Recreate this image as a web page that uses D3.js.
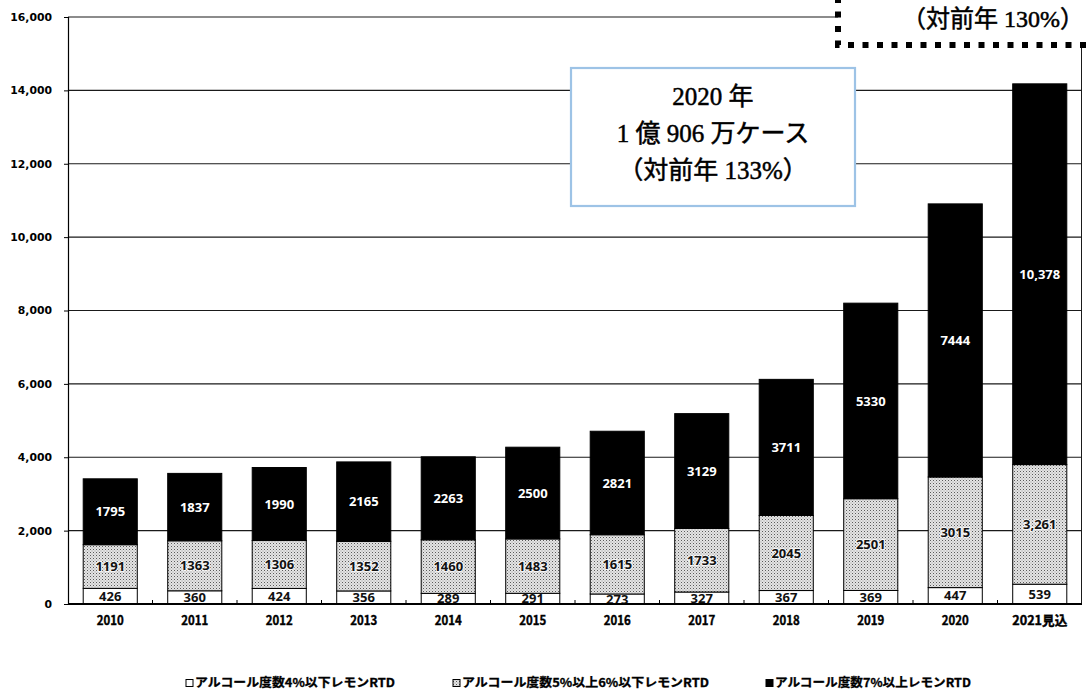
<!DOCTYPE html>
<html>
<head>
<meta charset="utf-8">
<script src="https://cdn.jsdelivr.net/npm/d3@7"></script>
<style>
  html, body { margin: 0; padding: 0; background: #fff; }
  svg { display: block; }
</style>
</head>
<body>
<svg id="chart" width="1086" height="693"></svg>
<script>
// Lemon RTD shipments by alcohol strength (thousand cases)
const years = ['2010', '2011', '2012', '2013', '2014', '2015', '2016', '2017', '2018', '2019', '2020', '2021見込'];
const lowAbv = [426, 360, 424, 356, 289, 291, 273, 327, 367, 369, 447, 539];
const midAbv = [1191, 1363, 1306, 1352, 1460, 1483, 1615, 1733, 2045, 2501, 3015, 3261];
const highAbv = [1795, 1837, 1990, 2165, 2263, 2500, 2821, 3129, 3711, 5330, 7444, 10378];
const seriesNames = ['アルコール度数4%以下レモンRTD', 'アルコール度数5%以上6%以下レモンRTD', 'アルコール度数7%以上レモンRTD'];
const yTicks = [0, 2000, 4000, 6000, 8000, 10000, 12000, 14000, 16000];
const note2020 = ['2020 年', '1 億 906 万ケース', '（対前年 133%）'];
const note2021 = '（対前年 130%）';

const svg = d3.select('#chart');
const margin = { left: 68, right: 4, top: 17, bottom: 89 };
const W = 1086, H = 693;
const x0 = margin.left, x1 = W - margin.right, y0 = H - margin.bottom, y1 = margin.top;

const x = d3.scaleBand().domain(years).range([x0, x1]).paddingInner(0.36).paddingOuter(0.18);
const y = d3.scaleLinear().domain([0, 16000]).range([y0, y1]);

// stipple fill for the middle series
const defs = svg.append('defs');
const pat = defs.append('pattern').attr('id', 'stipple')
  .attr('patternUnits', 'userSpaceOnUse').attr('width', 3).attr('height', 3);
pat.append('rect').attr('width', 3).attr('height', 3).attr('fill', '#e4e4e4');
pat.append('rect').attr('x', 0).attr('y', 0).attr('width', 1).attr('height', 1).attr('fill', '#5a5a5a');
pat.append('rect').attr('x', 1.5).attr('y', 1.5).attr('width', 1).attr('height', 1).attr('fill', '#9a9a9a');

const fills = ['#ffffff', 'url(#stipple)', '#000000'];

// gridlines (the top one stops at the 2021 call-out)
svg.append('g').selectAll('line').data(yTicks.filter(d => d > 0)).join('line')
  .attr('x1', x0).attr('x2', d => d === 16000 ? 838 : x1)
  .attr('y1', d => y(d)).attr('y2', d => y(d))
  .attr('stroke', '#1a1a1a').attr('stroke-width', 1.1);

// right border of the plot area
svg.append('line').attr('x1', x1 - 0.5).attr('x2', x1 - 0.5)
  .attr('y1', 45).attr('y2', y0).attr('stroke', '#1a1a1a').attr('stroke-width', 1);

// y axis
const yAxis = d3.axisLeft(y).tickValues(yTicks).tickSize(4).tickPadding(12)
  .tickFormat(d3.format(','));
const gy = svg.append('g').attr('transform', `translate(${x0},0)`).call(yAxis);
gy.select('.domain').attr('stroke', '#000').attr('stroke-width', 1.2);
gy.selectAll('.tick line').attr('stroke', '#000');
gy.selectAll('.tick text').attr('font-family', 'DejaVu Sans').attr('font-weight', 'bold')
  .attr('font-size', 10.8).attr('fill', '#000');

// stacked bars
const rows = years.map((yr, i) => ({ year: yr, low: lowAbv[i], mid: midAbv[i], high: highAbv[i] }));
const stack = d3.stack().keys(['low', 'mid', 'high'])(rows);

const gBars = svg.append('g');
stack.forEach((layer, li) => {
  gBars.append('g').selectAll('rect').data(layer).join('rect')
    .attr('x', d => x(d.data.year))
    .attr('width', x.bandwidth())
    .attr('y', d => y(d[1]))
    .attr('height', d => y(d[0]) - y(d[1]))
    .attr('fill', fills[li])
    .attr('stroke', '#000').attr('stroke-width', 1);
});

// segment value labels
const fmt = (v, yr) => yr.includes('見込') ? d3.format(',')(v) : String(v);
stack.forEach((layer, li) => {
  const t = svg.append('g').selectAll('text').data(layer).join('text')
    .attr('x', d => x(d.data.year) + x.bandwidth() / 2)
    .attr('y', d => (y(d[0]) + y(d[1])) / 2)
    .attr('dy', '0.36em')
    .attr('text-anchor', 'middle')
    .attr('font-family', 'Open Sans').attr('font-weight', 'bold').attr('font-size', 13)
    .attr('fill', li === 2 ? '#fff' : '#111')
    .text(d => fmt(d[1] - d[0], d.data.year));
  if (li === 1) {
    t.attr('stroke', '#fff').attr('stroke-width', 2.2).attr('stroke-opacity', 0.75)
      .attr('paint-order', 'stroke');
  }
});

// x axis
const xAxis = d3.axisBottom(x).tickSize(0).tickPadding(12);
const gx = svg.append('g').attr('transform', `translate(0,${y0})`).call(xAxis);
gx.select('.domain').remove();
gx.selectAll('.tick text').attr('font-family', 'Noto Sans CJK JP').attr('font-weight', 'bold')
  .attr('font-size', 13).attr('fill', '#000')
  .attr('stroke', '#000').attr('stroke-width', 0.4)
  .attr('textLength', d => d.includes('見込') ? 55 : 27).attr('lengthAdjust', 'spacingAndGlyphs');
// category boundary ticks
const bounds = years.slice(1).map(yr => x(yr) - x.step() * x.paddingInner() / 2);
svg.append('g').selectAll('line').data(bounds).join('line')
  .attr('x1', d => d).attr('x2', d => d).attr('y1', y0 - 4).attr('y2', y0)
  .attr('stroke', '#000').attr('stroke-width', 1);
svg.append('line').attr('x1', x0).attr('x2', x1).attr('y1', y0).attr('y2', y0)
  .attr('stroke', '#000').attr('stroke-width', 2);

// legend
const legendPos = [
  { mx: 186, tw: 200 },
  { mx: 453, tw: 247 },
  { mx: 766, tw: 196 }
];
const gl = svg.append('g');
seriesNames.forEach((name, i) => {
  const p = legendPos[i];
  gl.append('rect').attr('x', p.mx).attr('y', 679.5).attr('width', 7).attr('height', 7)
    .attr('fill', fills[i]).attr('stroke', '#000').attr('stroke-width', 1);
  gl.append('text').attr('x', p.mx + 9).attr('y', 683).attr('dy', '0.36em')
    .attr('font-family', 'Noto Sans CJK JP').attr('font-weight', 'bold').attr('font-size', 12)
    .attr('fill', '#000').attr('stroke', '#000').attr('stroke-width', 0.3)
    .attr('textLength', p.tw).attr('lengthAdjust', 'spacingAndGlyphs')
    .text(name);
});

// 2020 call-out box
const box = svg.append('g');
box.append('rect').attr('x', 571).attr('y', 68).attr('width', 284).attr('height', 138)
  .attr('fill', '#fff').attr('stroke', '#9dc3e6').attr('stroke-width', 2.2);
box.selectAll('text').data(note2020).join('text')
  .attr('x', 713).attr('y', (d, i) => 96 + i * 37).attr('dy', '0.36em')
  .attr('text-anchor', 'middle')
  .attr('font-family', 'Liberation Serif, Noto Sans CJK JP').attr('font-size', 25)
  .attr('fill', '#000').attr('stroke', '#000').attr('stroke-width', 0.5)
  .text(d => d);

// 2021 call-out (dotted frame running off the top edge)
const box2 = svg.append('g');
box2.append('rect').attr('x', 838).attr('y', 0).attr('width', W - 838).attr('height', 45)
  .attr('fill', '#fff');
box2.append('path').attr('d', `M838,-3 V45 H${W + 2}`)
  .attr('fill', 'none').attr('stroke', '#000').attr('stroke-width', 6)
  .attr('stroke-dasharray', '6,8.5');
box2.append('text').attr('x', 993).attr('y', 18).attr('dy', '0.36em')
  .attr('text-anchor', 'middle')
  .attr('font-family', 'Liberation Serif, Noto Sans CJK JP').attr('font-size', 24)
  .attr('fill', '#000').attr('stroke', '#000').attr('stroke-width', 0.5)
  .text(note2021);
</script>
</body>
</html>
